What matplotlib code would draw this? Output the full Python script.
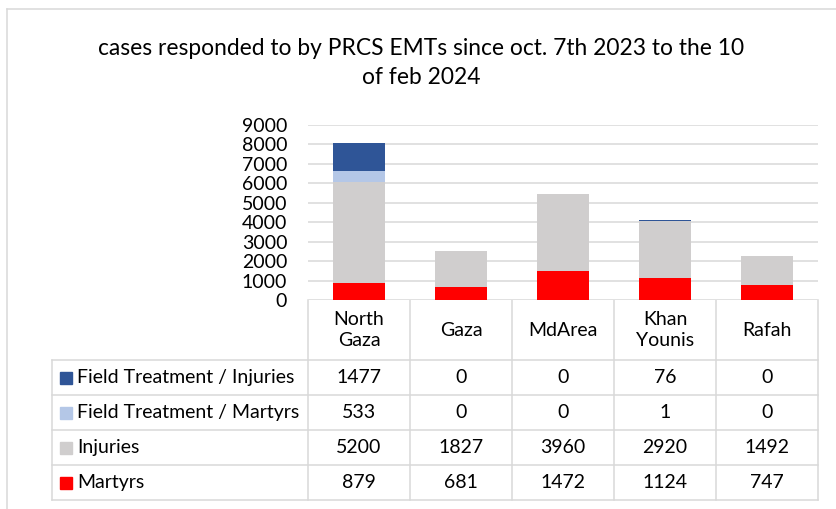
import matplotlib
matplotlib.use('Agg')
import matplotlib.pyplot as plt
import numpy as np

categories = ["North\nGaza", "Gaza", "MdArea", "Khan\nYounis", "Rafah"]
martyrs = [879, 681, 1472, 1124, 747]
injuries = [5200, 1827, 3960, 2920, 1492]
ft_martyrs = [533, 0, 0, 1, 0]
ft_injuries = [1477, 0, 0, 76, 0]
series_names = ["Martyrs", "Injuries", "Field Treatment / Martyrs", "Field Treatment / Injuries"]
series_values = [martyrs, injuries, ft_martyrs, ft_injuries]
colors = ["#FF0000", "#D0CECE", "#B4C7E7", "#2F5597"]
yticks = list(range(0, 10000, 1000))
title = "cases responded to by PRCS EMTs since oct. 7th 2023 to the 10\nof feb 2024"

plt.rcParams['font.family'] = ['Lato', 'DejaVu Sans']
W, H = 836, 509
fig = plt.figure(figsize=(W / 100, H / 100), dpi=100)

# overlay in pixel coordinates
ov = fig.add_axes([0, 0, 1, 1])
ov.set_xlim(0, W)
ov.set_ylim(H, 0)
ov.axis('off')

grid_c = '#D9D9D9'
lw = 1.1

# chart frame (left & top border)
ov.plot([7, 7], [9, H], color=grid_c, lw=lw)
ov.plot([7, W], [9, 9], color=grid_c, lw=lw)

ov.text(421, 63, title, ha='center', va='center', fontsize=16.4, color='#000000', linespacing=1.48)

# plot area
x0, x1, ytop, ybot = 308, 818, 125, 300
ax = fig.add_axes([x0 / W, 1 - ybot / H, (x1 - x0) / W, (ybot - ytop) / H])
n = len(categories)
x = np.arange(n)
bottom = np.zeros(n)
for name, vals, c in zip(series_names, series_values, colors):
    v = np.array(vals, dtype=float)
    ax.bar(x, v, bottom=bottom, width=0.51, color=c, zorder=3, label=name)
    bottom += v
ax.set_xlim(-0.5, n - 0.5)
ax.set_ylim(0, 9000)
ax.set_yticks(yticks)
ax.set_yticklabels([str(t) for t in yticks], fontsize=14)
ax.tick_params(axis='y', length=0, pad=15)
ax.set_xticks([])
for s in ax.spines.values():
    s.set_visible(False)
ax.yaxis.grid(True, color=grid_c, lw=lw, zorder=0)
ax.set_axisbelow(True)

# data table
colw = (x1 - x0) / n
row_edges = [360, 395, 430, 465, 500]
tbl_left = 52
for y in row_edges:
    ov.plot([tbl_left, x1], [y, y], color=grid_c, lw=lw)
for i in range(n + 1):
    xx = x0 + i * colw
    ov.plot([xx, xx], [ybot, row_edges[-1]], color=grid_c, lw=lw)
ov.plot([tbl_left, tbl_left], [row_edges[0], row_edges[-1]], color=grid_c, lw=lw)

for i, cat in enumerate(categories):
    cx = x0 + (i + 0.5) * colw
    ov.text(cx, (ybot + row_edges[0]) / 2, cat, ha='center', va='center', fontsize=14, linespacing=1.25)

rows = list(zip(series_names, series_values, colors))[::-1]
for r, (name, vals, c) in enumerate(rows):
    yc = (row_edges[r] + row_edges[r + 1]) / 2
    ov.add_patch(plt.Rectangle((60, yc - 6), 12, 12, color=c))
    ov.text(77, yc, name, ha='left', va='center', fontsize=14)
    for i, v in enumerate(vals):
        cx = x0 + (i + 0.5) * colw
        ov.text(cx, yc, str(v), ha='center', va='center', fontsize=14)

fig.savefig('out.png', dpi=100)
